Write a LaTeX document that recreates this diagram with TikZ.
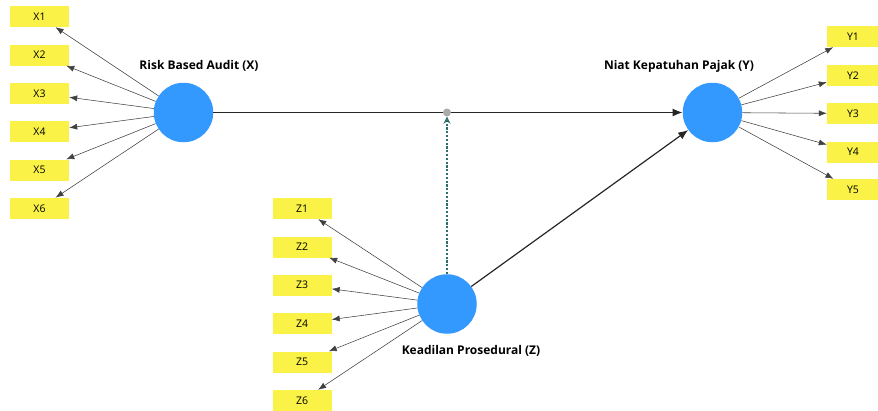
\documentclass[tikz,border=0pt]{standalone}
\usepackage{fontspec}
\setmainfont{Open Sans}
\usepackage{tikz}
\usetikzlibrary{arrows.meta, positioning}
\definecolor{latentblue}  {RGB}{51, 153, 255}
\definecolor{itemyellow}  {RGB}{250, 242, 70}
\definecolor{modteal}     {RGB}{45, 110, 110}
\definecolor{dotgrey}     {RGB}{170, 170, 170}

\begin{document}
\begin{tikzpicture}[x=1pt,y=-1pt,
		latent/.style={circle,fill=latentblue,minimum size=59.5pt,inner sep=0pt},
		item/.style={fill=itemyellow,minimum width=59pt,minimum height=21pt,inner sep=0pt,font=\fontsize{10.5}{12}\selectfont},
		lvname/.style={font=\fontsize{12}{14}\selectfont\bfseries},
		loading/.style={draw=black!75,line width=0.55pt,-{Latex[length=8pt,width=6pt]}},
		path coef/.style={draw=black!85,line width=1.2pt,-{Latex[length=10pt,width=8pt]}}
	]
	\useasboundingbox (0,0) rectangle (878,410);
	% latent variables
	\node[latent] (rba) at (183.5,112.5) {};
	\node[latent] (nkp) at (712.5,112.5) {};
	\node[latent] (kp)  at (447,304) {};
	\node[lvname] at (199,66)  {Risk Based Audit (X)};
	\node[lvname] at (679,66)  {Niat Kepatuhan Pajak (Y)};
	\node[lvname] at (471,351) {Keadilan Prosedural (Z)};
	% indicators of X
	\node[item] (x1) at (39.5,16.5)  {X1};
	\node[item] (x2) at (39.5,55)    {X2};
	\node[item] (x3) at (39.5,93.3)  {X3};
	\node[item] (x4) at (39.5,131.7) {X4};
	\node[item] (x5) at (39.5,170)   {X5};
	\node[item] (x6) at (39.5,208.3) {X6};
	% indicators of Z
	\node[item] (z1) at (302,208.5) {Z1};
	\node[item] (z2) at (302,247)   {Z2};
	\node[item] (z3) at (302,285)   {Z3};
	\node[item] (z4) at (302,323.5) {Z4};
	\node[item] (z5) at (302,362)   {Z5};
	\node[item] (z6) at (302,400.5) {Z6};
	% indicators of Y
	\node[item,minimum width=52pt] (y1) at (853,36.5)  {Y1};
	\node[item,minimum width=52pt] (y2) at (853,75.3)  {Y2};
	\node[item,minimum width=52pt] (y3) at (853,113.5) {Y3};
	\node[item,minimum width=52pt] (y4) at (853,152)   {Y4};
	\node[item,minimum width=52pt] (y5) at (853,189.5) {Y5};
	% outer loadings
	\draw[loading] (rba) -- (x1);
	\draw[loading] (rba) -- (x2);
	\draw[loading] (rba) -- (x3);
	\draw[loading] (rba) -- (x4);
	\draw[loading] (rba) -- (x5);
	\draw[loading] (rba) -- (x6);
	\draw[loading] (kp) -- (z1);
	\draw[loading] (kp) -- (z2);
	\draw[loading] (kp) -- (z3);
	\draw[loading] (kp) -- (z4);
	\draw[loading] (kp) -- (z5);
	\draw[loading] (kp) -- (z6);
	\draw[loading] (nkp) -- (y1);
	\draw[loading] (nkp) -- (y2);
	\draw[loading] (nkp) -- (y3);
	\draw[loading] (nkp) -- (y4);
	\draw[loading] (nkp) -- (y5);
	% inner model
	\draw[path coef] (rba) -- (nkp);
	\draw[path coef] (kp) -- (nkp);
	% moderating effect
	\node[circle,fill=dotgrey,minimum size=8pt,inner sep=0pt] (mod) at (447,112.5) {};
	\draw[modteal,line width=1.1pt,dash pattern=on 2.2pt off 1.6pt,-{Stealth[open,length=7pt,width=7pt]}] (kp) -- (mod);
\end{tikzpicture}
\end{document}
